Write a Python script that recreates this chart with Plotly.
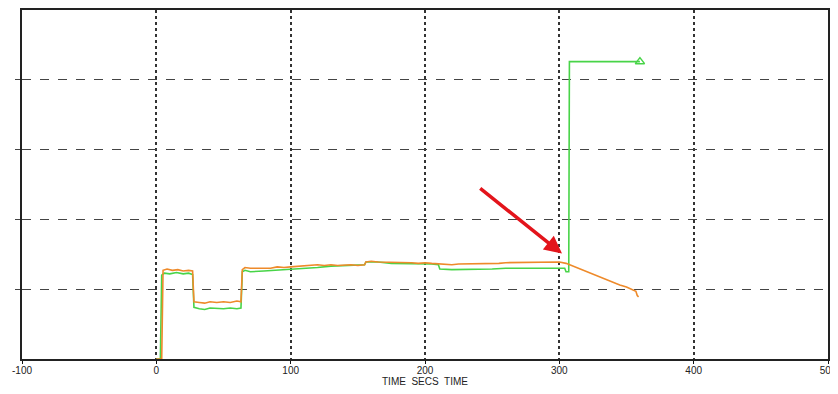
import plotly.graph_objects as go

# ---- data ----
orange_t = [0, 4, 5, 8, 12, 16, 20, 24, 27, 28, 32, 36, 40, 45, 50, 55, 60, 63, 64, 66, 70, 75, 80, 85, 90, 95,
            100, 105, 110, 115, 120, 125, 130, 135, 140, 145, 150, 155, 156, 160, 165, 170, 175, 180, 185, 190,
            195, 200, 205, 210, 215, 220, 225, 230, 235, 240, 245, 250, 255, 260, 265, 270, 275, 280, 285, 290,
            295, 300, 305, 310, 315, 320, 325, 330, 335, 340, 345, 350, 355, 357, 358, 359]
orange_v = [0.0, 0.0, 1.27, 1.29, 1.27, 1.28, 1.26, 1.27, 1.26, 0.82, 0.81, 0.80, 0.82, 0.81, 0.82, 0.81, 0.83, 0.82,
            1.28, 1.31, 1.30, 1.30, 1.31, 1.30, 1.32, 1.31, 1.32, 1.33, 1.33, 1.34, 1.35, 1.34, 1.35, 1.34, 1.35,
            1.35, 1.34, 1.35, 1.39, 1.40, 1.39, 1.39, 1.38, 1.38, 1.39, 1.38, 1.37, 1.38, 1.37, 1.36, 1.36, 1.35,
            1.36, 1.36, 1.36, 1.37, 1.36, 1.37, 1.37, 1.38, 1.38, 1.38, 1.39, 1.39, 1.38, 1.39, 1.38, 1.39, 1.37,
            1.33, 1.29, 1.25, 1.21, 1.18, 1.14, 1.10, 1.06, 1.03, 0.99, 0.97, 0.91, 0.89]

green_t = [0, 3, 4, 6, 10, 15, 20, 24, 27, 28, 32, 36, 40, 45, 50, 55, 60, 63, 64, 66, 70, 80, 90, 100, 110, 120,
           130, 140, 150, 155, 156, 165, 175, 185, 195, 205, 210, 211, 220, 230, 240, 250, 260, 270, 280, 290,
           300, 304, 305, 307, 307.5, 360]
green_v = [0.0, 0.0, 1.20, 1.23, 1.22, 1.24, 1.22, 1.23, 1.21, 0.74, 0.72, 0.71, 0.73, 0.72, 0.72, 0.73, 0.72, 0.73,
           1.25, 1.27, 1.25, 1.26, 1.27, 1.28, 1.29, 1.31, 1.33, 1.34, 1.34, 1.35, 1.39, 1.39, 1.37, 1.37, 1.36,
           1.36, 1.35, 1.29, 1.28, 1.28, 1.29, 1.29, 1.30, 1.30, 1.31, 1.31, 1.31, 1.30, 1.25, 1.25, 4.26, 4.26]

x_ticks = [-100, 0, 100, 200, 300, 400, 500]
x_title = "TIME  SECS  TIME"
arrow_tail = (240, 2.46)
arrow_head = (302, 1.51)

fig = go.Figure()
fig.add_trace(go.Scatter(x=green_t, y=green_v, mode="lines",
                         line=dict(color="#48d448", width=1.6), showlegend=False))
fig.add_trace(go.Scatter(x=orange_t, y=orange_v, mode="lines",
                         line=dict(color="#ee8a2a", width=1.6), showlegend=False))
fig.add_trace(go.Scatter(x=[green_t[-1]], y=[green_v[-1]], mode="markers",
                         marker=dict(symbol="triangle-up-open", size=8, color="#48d448",
                                     line=dict(width=1.5, color="#48d448")),
                         showlegend=False))

fig.add_annotation(x=arrow_head[0], y=arrow_head[1], ax=arrow_tail[0], ay=arrow_tail[1],
                   xref="x", yref="y", axref="x", ayref="y", text="", showarrow=True,
                   arrowhead=2, arrowsize=1, arrowwidth=3.5, arrowcolor="#e3141b")

# x-axis title placed as text under the tick labels
fig.add_annotation(x=0.5, y=0, xref="paper", yref="paper", text=x_title, showarrow=False,
                   yanchor="top", yshift=-15, font=dict(size=10, color="#222"))

# the page body adds an 8px margin; figure sized so it fits without scrollbars
fig.update_layout(
    width=822, height=378,
    margin=dict(l=14, r=2, t=2, b=27, autoexpand=False),
    paper_bgcolor="white", plot_bgcolor="white",
    font=dict(family="Liberation Sans, Arial, sans-serif", size=10, color="#222"),
    xaxis=dict(range=[-100, 500], tickvals=x_ticks, ticktext=[str(v) for v in x_ticks],
               automargin=False, ticklabeloverflow="allow", ticklabelstandoff=-2,
               showgrid=True, gridcolor="#333", griddash="dot", gridwidth=1.5,
               zeroline=False, showline=True, linecolor="#222", linewidth=1.8, mirror=True,
               ticks="outside", ticklen=3, tickcolor="#111"),
    yaxis=dict(range=[0, 5], tickvals=[1, 2, 3, 4], showticklabels=False, automargin=False,
               showgrid=True, gridcolor="#444", griddash="dash", gridwidth=1.3,
               zeroline=False, showline=True, linecolor="#222", linewidth=1.8, mirror=True,
               ticks="outside", ticklen=5, tickcolor="#444"),
)

fig.write_html("out.html")
